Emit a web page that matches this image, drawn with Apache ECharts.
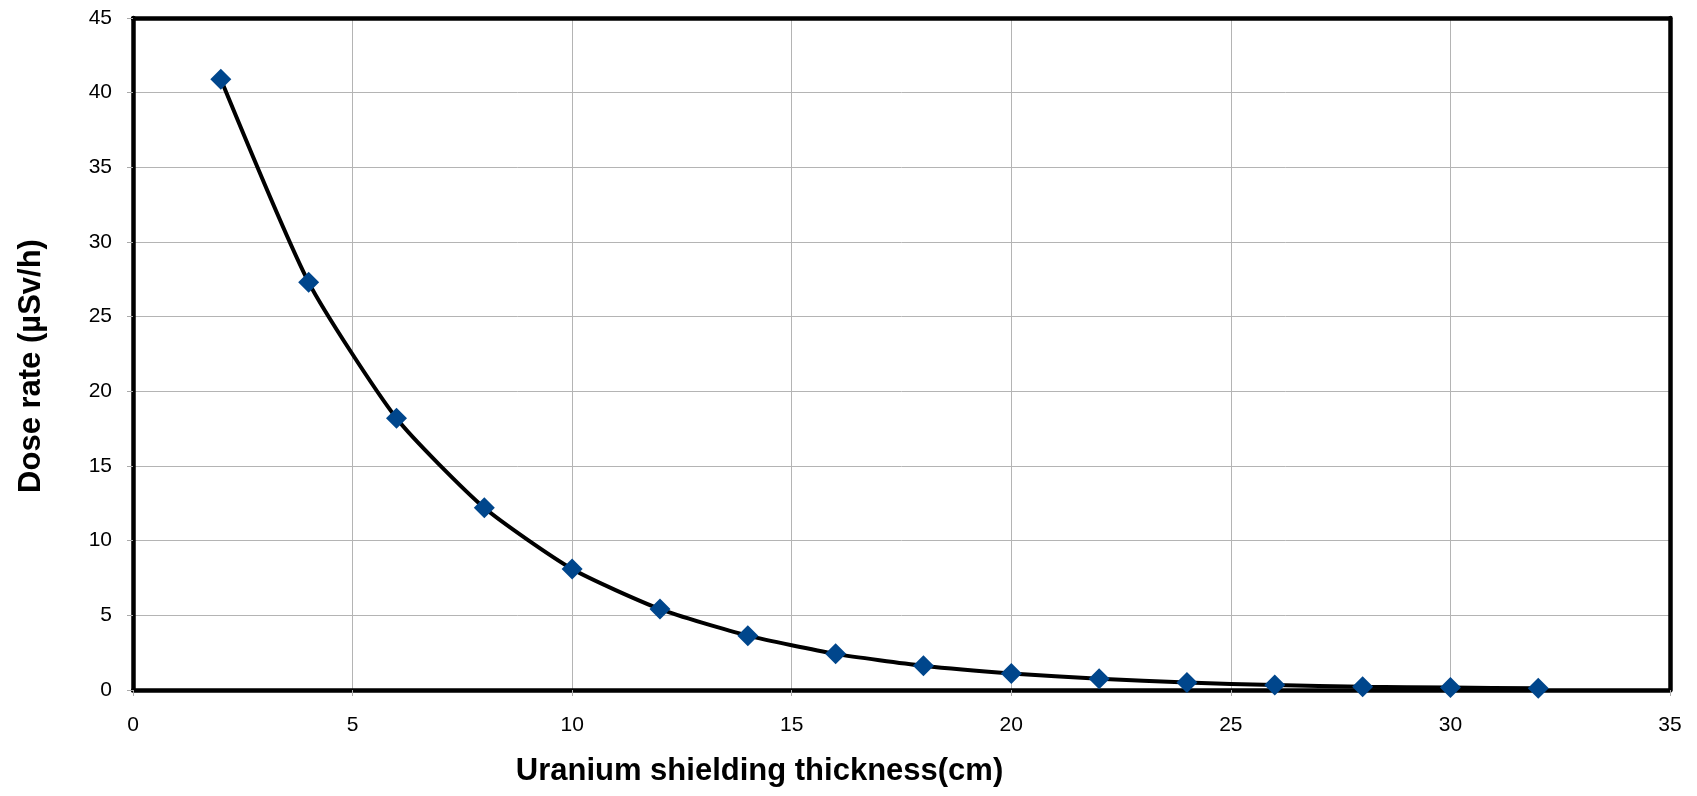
<!DOCTYPE html>
<html>
<head>
<meta charset="utf-8">
<script src="https://cdn.jsdelivr.net/npm/echarts@6/dist/echarts.min.js"></script>
<style>
html,body{margin:0;padding:0;background:#fff;}
#chart{width:1697px;height:796px;}
</style>
</head>
<body>
<div id="chart"></div>
<script>
const thickness = [2, 4, 6, 8, 10, 12, 14, 16, 18, 20, 22, 24, 26, 28, 30, 32];
const doseRate = [40.9, 27.3, 18.2, 12.2, 8.1, 5.42, 3.64, 2.42, 1.62, 1.1, 0.75, 0.5, 0.33, 0.22, 0.16, 0.11];
const xTitle = 'Uranium shielding thickness(cm)';
const yTitle = 'Dose rate (µSv/h)';

const data = thickness.map((x, i) => [x, doseRate[i]]);
const chart = echarts.init(document.getElementById('chart'));
const font = 'Liberation Sans, Arial, sans-serif';
const frameLine = { show: true, onZero: false, lineStyle: { color: '#000', width: 4.5 } };
const frameAxis = (pos, min, max, interval) => ({
  type: 'value', position: pos, min: min, max: max, interval: interval,
  axisLine: frameLine, axisTick: { show: false }, axisLabel: { show: false }, splitLine: { show: false }
});
chart.setOption({
  animation: false,
  grid: {
    left: 133, right: 27, top: 18, bottom: 106
  },
  xAxis: [{
    type: 'value', min: 0, max: 35, interval: 5, position: 'bottom',
    name: xTitle, nameLocation: 'middle', nameGap: 66,
    nameTextStyle: { fontFamily: font, fontSize: 31, fontWeight: 'bold', color: '#000', padding: [0, 284, 0, 0] },
    axisLine: frameLine,
    axisTick: { show: true, length: 6, lineStyle: { color: '#aaa' } },
    axisLabel: { fontFamily: font, fontSize: 21, color: '#000', margin: 25 },
    splitLine: { show: true, lineStyle: { color: '#b4b4b4', width: 1 } }
  }, frameAxis('top', 0, 35, 5)],
  yAxis: [{
    type: 'value', min: 0, max: 45, interval: 5, position: 'left',
    name: yTitle, nameLocation: 'middle', nameGap: 86,
    nameTextStyle: { fontFamily: font, fontSize: 31, fontWeight: 'bold', color: '#000', padding: [0, 24, 0, 0] },
    axisLine: frameLine,
    axisTick: { show: true, length: 6, lineStyle: { color: '#aaa' } },
    axisLabel: { fontFamily: font, fontSize: 21, color: '#000', margin: 21 },
    splitLine: { show: true, lineStyle: { color: '#b4b4b4', width: 1 } }
  }, frameAxis('right', 0, 45, 5)],
  series: [{
    type: 'line',
    data: data,
    smooth: 0.2,
    symbol: 'diamond',
    symbolSize: 21,
    z: 5,
    clip: false,
    lineStyle: { color: '#000', width: 4 },
    itemStyle: { color: '#00468c' }
  }]
});
</script>
</body>
</html>
